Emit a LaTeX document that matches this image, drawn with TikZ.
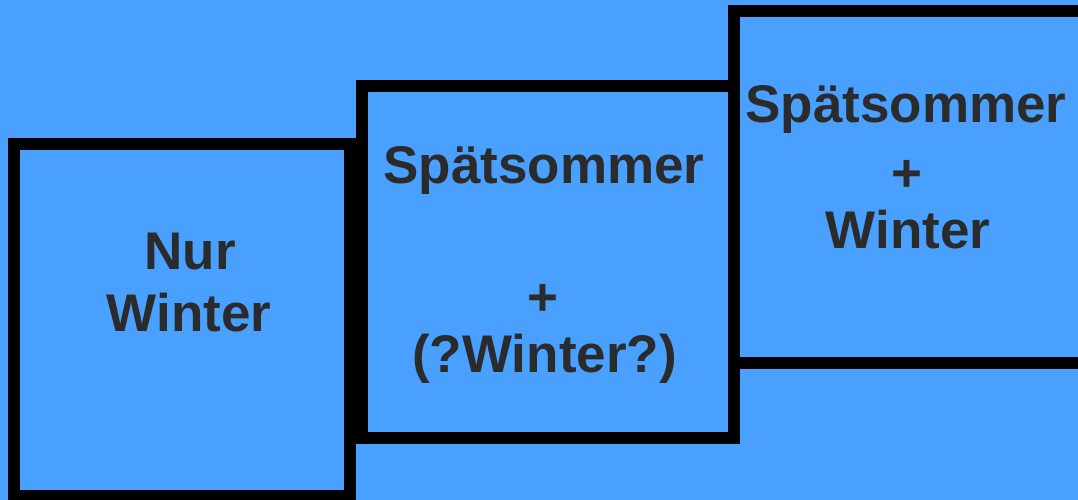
\documentclass[tikz,border=0pt]{standalone}
\usepackage{fontspec}
\setmainfont{Liberation Sans}
\definecolor{skyfill}{RGB}{74,160,255}
\definecolor{inkgray}{RGB}{43,43,43}
\begin{document}
\begin{tikzpicture}[x=1pt,y=-1pt,
  panel/.style={draw=black, line width=12pt, rectangle, inner sep=0pt, outer sep=0pt},
  label/.style={anchor=base, inner sep=0pt, text=inkgray,
    font=\fontsize{53}{62}\selectfont\bfseries}]
  \useasboundingbox (0,0) rectangle (1078,500);
  \fill[skyfill] (0,0) rectangle (1078,500);
  \clip (0,0) rectangle (1078,500);

  % three overlapping panels
  \node[panel, minimum width=336pt, minimum height=352pt] (p1) at (182,320) {};
  \node[panel, minimum width=372pt, minimum height=352pt] (p2) at (548,262) {};
  \node[panel, minimum width=360pt, minimum height=352pt] (p3) at (914,187) {};

  % panel texts
  \node[label] (t1a) at (190,269) {Nur};
  \node[label] (t1b) at (189,331) {Winter};

  \node[label] (t2a) at (544,183) {Spätsommer};
  \node[label] (t2b) at (543,315) {+};
  \node[label] (t2c) at (544.5,372) {(?Winter?)};

  \node[label] (t3a) at (906,123) {Spätsommer};
  \node[label] (t3b) at (907,191) {+};
  \node[label] (t3c) at (908,248) {Winter};
\end{tikzpicture}
\end{document}
